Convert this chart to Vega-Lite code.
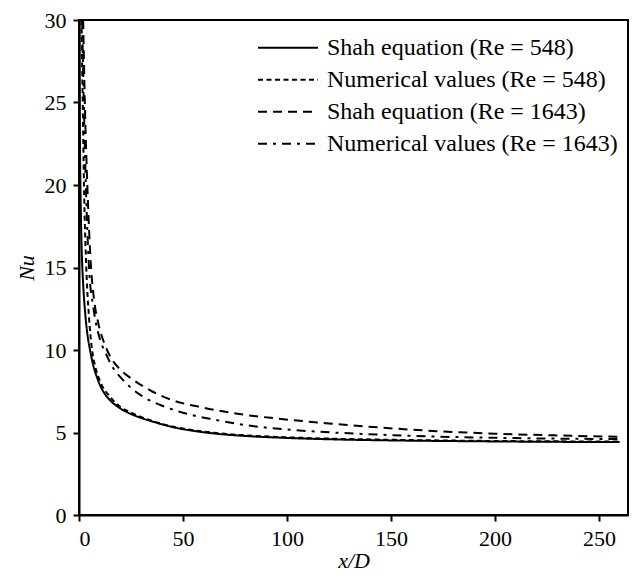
{
  "$schema": "https://vega.github.io/schema/vega-lite/v6.json",
  "width": 549,
  "height": 495,
  "autosize": {"type": "none"},
  "padding": {"left": 79, "top": 20, "right": 7, "bottom": 64},
  "background": "white",
  "config": {
    "font": "Liberation Serif",
    "view": {"stroke": "black", "strokeWidth": 2},
    "axis": {
      "grid": false,
      "domainColor": "black",
      "domainWidth": 2,
      "tickColor": "black",
      "tickWidth": 2,
      "tickSize": 6,
      "labelFont": "Liberation Serif",
      "labelFontSize": 22,
      "labelColor": "black",
      "titleFont": "Liberation Serif",
      "titleFontSize": 22,
      "titleFontStyle": "italic",
      "titleFontWeight": "normal",
      "titleColor": "black"
    }
  },
  "data": {
    "values": [
      {"series": "Shah equation (Re = 548)", "x": 0.2, "nu": 30},
      {"series": "Shah equation (Re = 548)", "x": 0.3, "nu": 26},
      {"series": "Shah equation (Re = 548)", "x": 0.5, "nu": 22},
      {"series": "Shah equation (Re = 548)", "x": 0.8, "nu": 19},
      {"series": "Shah equation (Re = 548)", "x": 1.2, "nu": 16.5},
      {"series": "Shah equation (Re = 548)", "x": 2, "nu": 14},
      {"series": "Shah equation (Re = 548)", "x": 3, "nu": 12.2},
      {"series": "Shah equation (Re = 548)", "x": 4, "nu": 11},
      {"series": "Shah equation (Re = 548)", "x": 5.3, "nu": 10},
      {"series": "Shah equation (Re = 548)", "x": 7, "nu": 9},
      {"series": "Shah equation (Re = 548)", "x": 8.5, "nu": 8.4},
      {"series": "Shah equation (Re = 548)", "x": 10, "nu": 7.9},
      {"series": "Shah equation (Re = 548)", "x": 12, "nu": 7.42},
      {"series": "Shah equation (Re = 548)", "x": 15, "nu": 6.95},
      {"series": "Shah equation (Re = 548)", "x": 20, "nu": 6.45},
      {"series": "Shah equation (Re = 548)", "x": 25, "nu": 6.12},
      {"series": "Shah equation (Re = 548)", "x": 30, "nu": 5.88},
      {"series": "Shah equation (Re = 548)", "x": 37, "nu": 5.6},
      {"series": "Shah equation (Re = 548)", "x": 45, "nu": 5.33},
      {"series": "Shah equation (Re = 548)", "x": 55, "nu": 5.1},
      {"series": "Shah equation (Re = 548)", "x": 65, "nu": 4.94},
      {"series": "Shah equation (Re = 548)", "x": 80, "nu": 4.79},
      {"series": "Shah equation (Re = 548)", "x": 100, "nu": 4.67},
      {"series": "Shah equation (Re = 548)", "x": 120, "nu": 4.59},
      {"series": "Shah equation (Re = 548)", "x": 150, "nu": 4.52},
      {"series": "Shah equation (Re = 548)", "x": 180, "nu": 4.48},
      {"series": "Shah equation (Re = 548)", "x": 220, "nu": 4.44},
      {"series": "Shah equation (Re = 548)", "x": 260, "nu": 4.42},

      {"series": "Numerical values (Re = 548)", "x": 1.2, "nu": 30},
      {"series": "Numerical values (Re = 548)", "x": 1.8, "nu": 25},
      {"series": "Numerical values (Re = 548)", "x": 2.4, "nu": 20},
      {"series": "Numerical values (Re = 548)", "x": 3.5, "nu": 15},
      {"series": "Numerical values (Re = 548)", "x": 4.8, "nu": 12},
      {"series": "Numerical values (Re = 548)", "x": 6.3, "nu": 10},
      {"series": "Numerical values (Re = 548)", "x": 7.8, "nu": 9},
      {"series": "Numerical values (Re = 548)", "x": 10, "nu": 8.15},
      {"series": "Numerical values (Re = 548)", "x": 15, "nu": 7.15},
      {"series": "Numerical values (Re = 548)", "x": 20, "nu": 6.55},
      {"series": "Numerical values (Re = 548)", "x": 26, "nu": 6.15},
      {"series": "Numerical values (Re = 548)", "x": 30, "nu": 5.93},
      {"series": "Numerical values (Re = 548)", "x": 37, "nu": 5.63},
      {"series": "Numerical values (Re = 548)", "x": 45, "nu": 5.36},
      {"series": "Numerical values (Re = 548)", "x": 55, "nu": 5.14},
      {"series": "Numerical values (Re = 548)", "x": 65, "nu": 4.98},
      {"series": "Numerical values (Re = 548)", "x": 80, "nu": 4.83},
      {"series": "Numerical values (Re = 548)", "x": 100, "nu": 4.71},
      {"series": "Numerical values (Re = 548)", "x": 120, "nu": 4.63},
      {"series": "Numerical values (Re = 548)", "x": 150, "nu": 4.56},
      {"series": "Numerical values (Re = 548)", "x": 180, "nu": 4.51},
      {"series": "Numerical values (Re = 548)", "x": 220, "nu": 4.47},
      {"series": "Numerical values (Re = 548)", "x": 260, "nu": 4.45},

      {"series": "Shah equation (Re = 1643)", "x": 2.0, "nu": 30},
      {"series": "Shah equation (Re = 1643)", "x": 2.8, "nu": 25},
      {"series": "Shah equation (Re = 1643)", "x": 4.0, "nu": 20},
      {"series": "Shah equation (Re = 1643)", "x": 5.8, "nu": 15},
      {"series": "Shah equation (Re = 1643)", "x": 7.3, "nu": 13},
      {"series": "Shah equation (Re = 1643)", "x": 9.5, "nu": 11.5},
      {"series": "Shah equation (Re = 1643)", "x": 12.5, "nu": 10.3},
      {"series": "Shah equation (Re = 1643)", "x": 15.5, "nu": 9.5},
      {"series": "Shah equation (Re = 1643)", "x": 20, "nu": 8.8},
      {"series": "Shah equation (Re = 1643)", "x": 26, "nu": 8.2},
      {"series": "Shah equation (Re = 1643)", "x": 35, "nu": 7.5},
      {"series": "Shah equation (Re = 1643)", "x": 44, "nu": 7.0},
      {"series": "Shah equation (Re = 1643)", "x": 60, "nu": 6.5},
      {"series": "Shah equation (Re = 1643)", "x": 77, "nu": 6.12},
      {"series": "Shah equation (Re = 1643)", "x": 95, "nu": 5.85},
      {"series": "Shah equation (Re = 1643)", "x": 120, "nu": 5.55},
      {"series": "Shah equation (Re = 1643)", "x": 145, "nu": 5.3},
      {"series": "Shah equation (Re = 1643)", "x": 172, "nu": 5.08},
      {"series": "Shah equation (Re = 1643)", "x": 200, "nu": 4.93},
      {"series": "Shah equation (Re = 1643)", "x": 230, "nu": 4.82},
      {"series": "Shah equation (Re = 1643)", "x": 260, "nu": 4.74},

      {"series": "Numerical values (Re = 1643)", "x": 1.5, "nu": 30},
      {"series": "Numerical values (Re = 1643)", "x": 2.3, "nu": 25},
      {"series": "Numerical values (Re = 1643)", "x": 3.3, "nu": 20},
      {"series": "Numerical values (Re = 1643)", "x": 4.8, "nu": 15},
      {"series": "Numerical values (Re = 1643)", "x": 7, "nu": 12.5},
      {"series": "Numerical values (Re = 1643)", "x": 10.2, "nu": 10.6},
      {"series": "Numerical values (Re = 1643)", "x": 12.5, "nu": 9.9},
      {"series": "Numerical values (Re = 1643)", "x": 16, "nu": 9.0},
      {"series": "Numerical values (Re = 1643)", "x": 21, "nu": 8.2},
      {"series": "Numerical values (Re = 1643)", "x": 27, "nu": 7.5},
      {"series": "Numerical values (Re = 1643)", "x": 32.5, "nu": 7.05},
      {"series": "Numerical values (Re = 1643)", "x": 40, "nu": 6.62},
      {"series": "Numerical values (Re = 1643)", "x": 50, "nu": 6.2},
      {"series": "Numerical values (Re = 1643)", "x": 65, "nu": 5.78},
      {"series": "Numerical values (Re = 1643)", "x": 80, "nu": 5.45},
      {"series": "Numerical values (Re = 1643)", "x": 100, "nu": 5.18},
      {"series": "Numerical values (Re = 1643)", "x": 130, "nu": 4.95},
      {"series": "Numerical values (Re = 1643)", "x": 170, "nu": 4.76},
      {"series": "Numerical values (Re = 1643)", "x": 210, "nu": 4.66},
      {"series": "Numerical values (Re = 1643)", "x": 260, "nu": 4.6}
    ]
  },
  "mark": {"type": "line", "clip": true, "strokeWidth": 2, "color": "black", "interpolate": "monotone"},
  "encoding": {
    "x": {
      "field": "x",
      "type": "quantitative",
      "scale": {"domain": [0, 264], "nice": false, "zero": true},
      "axis": {"values": [0, 50, 100, 150, 200, 250], "title": "x/D", "labelPadding": 7, "titlePadding": 1}
    },
    "y": {
      "field": "nu",
      "type": "quantitative",
      "scale": {"domain": [0, 30], "nice": false},
      "axis": {"values": [0, 5, 10, 15, 20, 25, 30], "title": "Nu", "labelPadding": 7, "titlePadding": 6}
    },
    "strokeDash": {
      "field": "series",
      "type": "nominal",
      "scale": {
        "domain": ["Shah equation (Re = 548)", "Numerical values (Re = 548)", "Shah equation (Re = 1643)", "Numerical values (Re = 1643)"],
        "range": [[1, 0], [5, 3.5], [9, 6], [9, 6, 3, 6]]
      },
      "legend": {
        "title": null,
        "orient": "none",
        "legendX": 178,
        "legendY": 12,
        "symbolType": "stroke",
        "symbolSize": 3600,
        "symbolStrokeWidth": 2,
        "symbolStrokeColor": "black",
        "clipHeight": 31.3,
        "rowPadding": 0,
        "labelOffset": 8,
        "labelFont": "Liberation Serif",
        "labelFontSize": 24,
        "labelColor": "black",
        "labelLimit": 400
      }
    }
  }
}
